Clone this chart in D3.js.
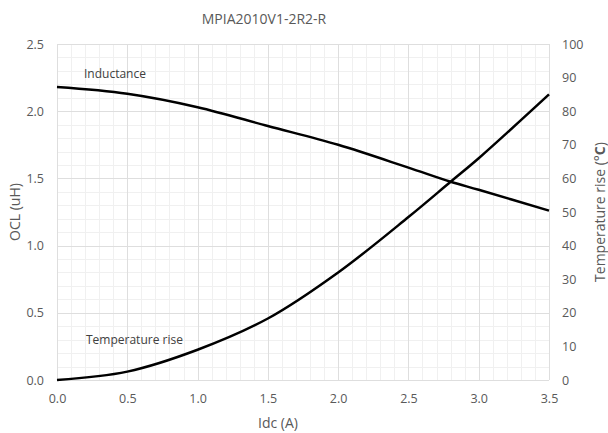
<!DOCTYPE html>
<html>
<head>
<meta charset="utf-8">
<script src="https://cdn.jsdelivr.net/npm/d3@7"></script>
<style>
  body { margin: 0; background: #fff; }
  text { font-family: "Open Sans", "Noto Sans", sans-serif; fill: #595959; }
</style>
</head>
<body>
<div id="chart"></div>
<script>
// current values (A)
var idc = [0.0, 0.5, 1.0, 1.5, 2.0, 2.5, 2.8, 3.0, 3.5];
// inductance (uH)
var ocl = [2.18, 2.13, 2.03, 1.89, 1.75, 1.58, 1.475, 1.415, 1.26];
// temperature rise (°C)
var tempRise = [0, 2.5, 9, 18.3, 32, 48.5, 59, 66, 85];

var xTicks = [0, 0.5, 1.0, 1.5, 2.0, 2.5, 3.0, 3.5];
var leftTicks = [0, 0.5, 1.0, 1.5, 2.0, 2.5];
var rightTicks = [0, 10, 20, 30, 40, 50, 60, 70, 80, 90, 100];

/*
 * Bounds of component.
 */
var width = 608,
    height = 433,
    pLeft = 57, pRight = 549, pTop = 44, pBottom = 380;

var svg = d3.select("#chart").append("svg")
    .attr("width", width)
    .attr("height", height);

var x = d3.scaleLinear().domain([0, 3.5]).range([pLeft, pRight]);
var yL = d3.scaleLinear().domain([0, 2.5]).range([pBottom, pTop]);
var yR = d3.scaleLinear().domain([0, 100]).range([pBottom, pTop]);

/*
 * Grid: minor every 0.1, major every 0.5.
 */
var grid = svg.append("g");
var minorX = d3.range(0, 35.5, 1).map(function(d) { return d / 10; });
var minorY = d3.range(0, 25.5, 1).map(function(d) { return d / 10; });

grid.selectAll(".mx").data(minorX).enter().append("line")
    .attr("x1", function(d) { return Math.round(x(d)) + 0.5; })
    .attr("x2", function(d) { return Math.round(x(d)) + 0.5; })
    .attr("y1", pTop).attr("y2", pBottom)
    .style("stroke", "#f0f0f0");
grid.selectAll(".my").data(minorY).enter().append("line")
    .attr("y1", function(d) { return Math.round(yL(d)) + 0.5; })
    .attr("y2", function(d) { return Math.round(yL(d)) + 0.5; })
    .attr("x1", pLeft).attr("x2", pRight)
    .style("stroke", "#f0f0f0");
grid.selectAll(".Mx").data(xTicks).enter().append("line")
    .attr("x1", function(d) { return Math.round(x(d)) + 0.5; })
    .attr("x2", function(d) { return Math.round(x(d)) + 0.5; })
    .attr("y1", pTop).attr("y2", pBottom)
    .style("stroke", "#dedede");
grid.selectAll(".My").data(leftTicks).enter().append("line")
    .attr("y1", function(d) { return Math.round(yL(d)) + 0.5; })
    .attr("y2", function(d) { return Math.round(yL(d)) + 0.5; })
    .attr("x1", pLeft).attr("x2", pRight)
    .style("stroke", "#dedede");

/*
 * Axes (labels only, no domain lines).
 */
var fmt1 = d3.format(".1f");
var xAxis = svg.append("g")
    .attr("transform", "translate(0," + pBottom + ")")
    .call(d3.axisBottom(x).tickValues(xTicks).tickFormat(fmt1).tickSize(0).tickPadding(14));
var lAxis = svg.append("g")
    .attr("transform", "translate(" + pLeft + ",0)")
    .call(d3.axisLeft(yL).tickValues(leftTicks).tickFormat(fmt1).tickSize(0).tickPadding(13));
var rAxis = svg.append("g")
    .attr("transform", "translate(" + pRight + ",0)")
    .call(d3.axisRight(yR).tickValues(rightTicks).tickSize(0).tickPadding(13));
[xAxis, lAxis, rAxis].forEach(function(a) {
  a.select(".domain").remove();
  a.selectAll("text").style("font-size", "12.5px").style("fill", "#595959")
    .style("font-family", "'Open Sans', sans-serif");
});

/*
 * Lines.
 */
var lineL = d3.line()
    .x(function(d, i) { return x(idc[i]); })
    .y(function(d) { return yL(d); })
    .curve(d3.curveCatmullRom.alpha(0.5));
var lineR = d3.line()
    .x(function(d, i) { return x(idc[i]); })
    .y(function(d) { return yR(d); })
    .curve(d3.curveCatmullRom.alpha(0.5));

svg.append("path").attr("d", lineL(ocl))
    .style("fill", "none").style("stroke", "#000").style("stroke-width", 2.5);
svg.append("path").attr("d", lineR(tempRise))
    .style("fill", "none").style("stroke", "#000").style("stroke-width", 2.5);

/*
 * Texts.
 */
svg.append("text").attr("x", 264).attr("y", 24)
    .style("text-anchor", "middle").style("font-size", "14px")
    .text("MPIA2010V1-2R2-R");

svg.append("text").attr("x", 278).attr("y", 428)
    .style("text-anchor", "middle").style("font-size", "14px")
    .text("Idc (A)");

svg.append("text")
    .attr("transform", "translate(20,212) rotate(-90)")
    .style("text-anchor", "middle").style("font-size", "14px")
    .text("OCL (uH)");

var rt = svg.append("text")
    .attr("transform", "translate(605,212) rotate(-90)")
    .style("text-anchor", "middle").style("font-size", "14px");
rt.append("tspan").text("Temperature rise (°");
rt.append("tspan").style("font-weight", "bold").text("C");
rt.append("tspan").text(")");

svg.append("text").attr("x", 84).attr("y", 78)
    .style("font-size", "12px").style("fill", "#404040")
    .text("Inductance");
svg.append("text").attr("x", 86).attr("y", 344)
    .style("font-size", "12px").style("fill", "#404040")
    .text("Temperature rise");
</script>
</body>
</html>
